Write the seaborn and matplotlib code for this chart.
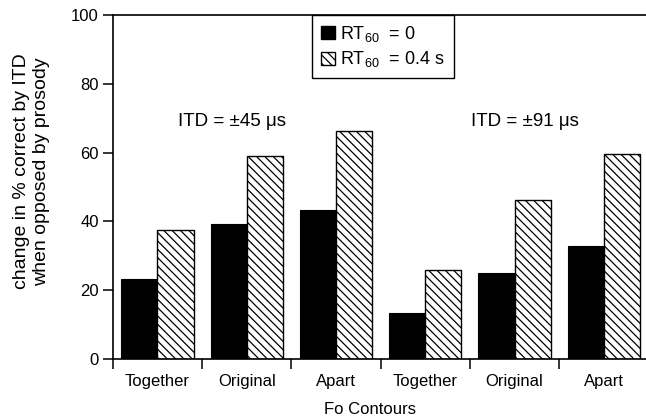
import matplotlib
matplotlib.use("Agg")
import matplotlib.pyplot as plt
from matplotlib.patches import Patch
from matplotlib.ticker import FixedLocator
import seaborn as sns
import pandas as pd

# ---- data ----
contours = ["Together", "Original", "Apart", "Together", "Original", "Apart"]
itd_groups = ["45", "45", "45", "91", "91", "91"]
rt0 = [23.2, 39.2, 43.3, 13.4, 25.1, 32.8]
rt04 = [37.5, 59.1, 66.2, 26.0, 46.1, 59.7]
series_labels = [r"RT$_{60}$  = 0", r"RT$_{60}$  = 0.4 s"]
itd_labels = ["ITD = \u00b145 \u03bcs", "ITD = \u00b191 \u03bcs"]
yticks = [0, 20, 40, 60, 80, 100]

keys = [f"{c}_{g}" for c, g in zip(contours, itd_groups)]
df = pd.DataFrame({
    "cond": keys * 2,
    "value": rt0 + rt04,
    "rt": [series_labels[0]] * len(keys) + [series_labels[1]] * len(keys),
})

sns.set_style("white")
plt.rcParams["font.family"] = ["Liberation Sans", "DejaVu Sans"]
plt.rcParams["mathtext.fontset"] = "custom"
plt.rcParams["mathtext.rm"] = "Liberation Sans"
plt.rcParams["mathtext.it"] = "Liberation Sans"
plt.rcParams["hatch.linewidth"] = 0.9
plt.rcParams["hatch.color"] = "black"
plt.rcParams["text.color"] = "black"
plt.rcParams["axes.labelcolor"] = "black"
plt.rcParams["xtick.color"] = "black"
plt.rcParams["ytick.color"] = "black"
plt.rcParams["ytick.left"] = True
plt.rcParams["xtick.bottom"] = True

fig = plt.figure(figsize=(6.46, 4.17), dpi=100)
ax = fig.add_axes([0.1745, 0.139, 0.8295, 0.825])

sns.barplot(data=df, x="cond", y="value", hue="rt", order=keys,
            hue_order=series_labels, palette=["black", "white"],
            saturation=1, width=0.81, ax=ax, legend=False, errorbar=None)

for bar in ax.containers[0]:
    bar.set_edgecolor("black")
    bar.set_linewidth(0.8)
for bar in ax.containers[1]:
    bar.set_facecolor("white")
    bar.set_edgecolor("black")
    bar.set_hatch("\\\\\\\\")
    bar.set_linewidth(1.0)

ax.set_ylim(0, 100)
ax.set_xlim(-0.5, 5.5)
ax.set_yticks(yticks)
ax.set_yticklabels([str(v) for v in yticks], fontsize=12)
ax.set_xticks(range(len(contours)))
ax.set_xticklabels(contours, fontsize=12)
ax.xaxis.set_minor_locator(FixedLocator([i - 0.5 for i in range(len(contours) + 1)]))
ax.tick_params(axis="x", which="major", length=0, pad=11, bottom=True)
ax.tick_params(axis="x", which="minor", length=7, width=1.1, direction="out", color="black", bottom=True)
ax.tick_params(axis="y", which="major", length=7, width=1.1, direction="out", color="black", pad=3, left=True)

for s in ["left", "bottom", "top"]:
    ax.spines[s].set_visible(True)
    ax.spines[s].set_color("black")
    ax.spines[s].set_linewidth(1.2)
ax.spines["right"].set_visible(False)

ax.set_xlabel("Fo Contours", fontsize=12, labelpad=6)
ax.xaxis.set_label_coords(0.48, -0.125)
ax.set_ylabel("change in % correct by ITD\nwhen opposed by prosody", fontsize=14,
              linespacing=1.2)
ax.yaxis.set_label_coords(-0.117, 0.545)

ax.text(0.84, 69, itd_labels[0], ha="center", va="center", fontsize=13.5)
ax.text(4.11, 69, itd_labels[1], ha="center", va="center", fontsize=13.5)

handles = [Patch(facecolor="black", edgecolor="black"),
           Patch(facecolor="white", edgecolor="black", hatch="\\\\\\\\")]
leg = ax.legend(handles, series_labels, loc="upper left", bbox_to_anchor=(0.372, 1.0),
                borderaxespad=0, fontsize=13, handlelength=0.75, handleheight=0.75,
                handletextpad=0.3, labelspacing=0.3, fancybox=False, framealpha=1,
                edgecolor="black", borderpad=0.5)
leg.get_frame().set_linewidth(1.0)

fig.savefig("out.png", dpi=100)
